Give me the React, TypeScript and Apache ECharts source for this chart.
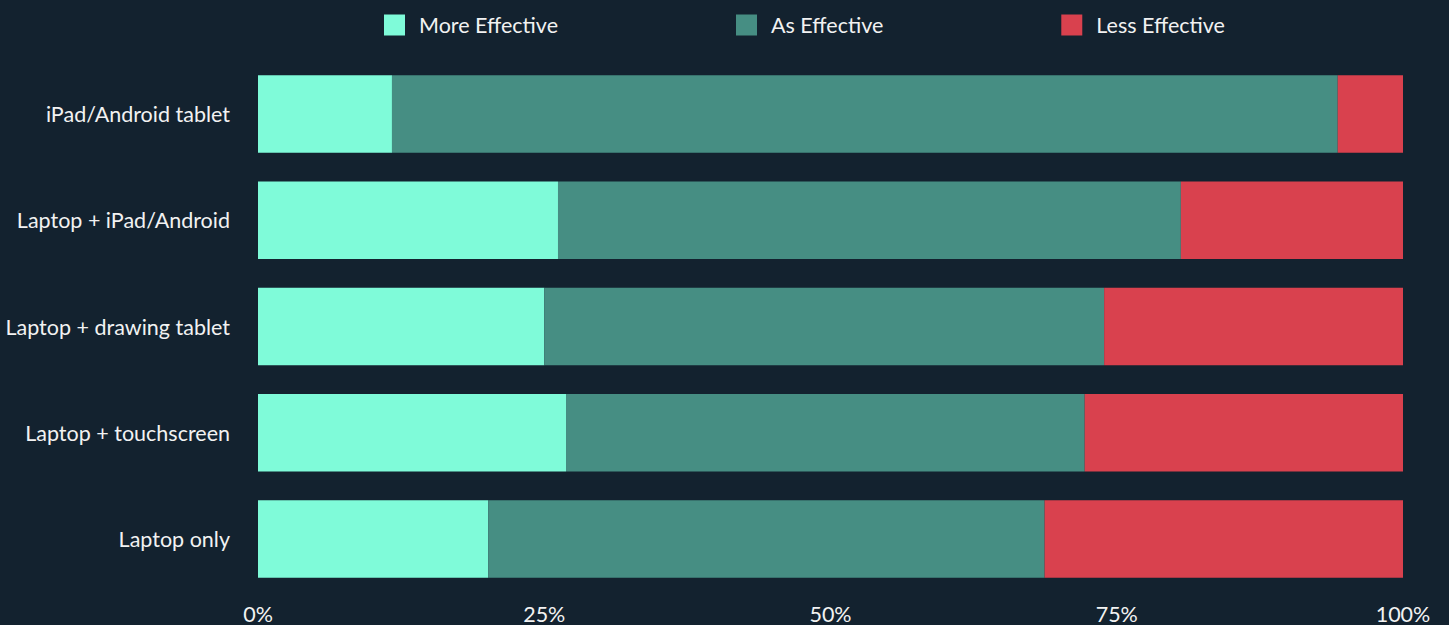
import React, { useEffect, useRef } from "react";
import * as echarts from "echarts";

const categories = [
  "iPad/Android tablet",
  "Laptop + iPad/Android",
  "Laptop + drawing tablet",
  "Laptop + touchscreen",
  "Laptop only",
];
const seriesNames = ["More Effective", "As Effective", "Less Effective"];
const moreEffective = [11.7, 26.2, 25.0, 26.9, 20.1];
const asEffective = [82.6, 54.4, 48.9, 45.3, 48.6];
const lessEffective = [5.7, 19.4, 26.1, 27.8, 31.3];
const xTicks = [0, 25, 50, 75, 100];

const colors = ["#7ffbd9", "#468e83", "#d9414e"];
const BG = "#13222f";
const TEXT = "#f2f2f2";
const FONT = "Lato, 'Noto Sans', sans-serif";
const FS = 21.5;

export default function App() {
  const ref = useRef<HTMLDivElement>(null);
  useEffect(() => {
    if (!ref.current) return;
    const chart = echarts.init(ref.current, undefined, { renderer: "svg" });
    const values = [moreEffective, asEffective, lessEffective];
    chart.setOption({
      animation: false,
      backgroundColor: BG,
      textStyle: { fontFamily: FONT },
      legend: {
        top: 14,
        left: 384,
        padding: 0,
        itemWidth: 21,
        itemHeight: 21,
        itemGap: 178,
        icon: "rect",
        data: seriesNames,
        textStyle: {
          color: TEXT,
          fontSize: FS,
          fontFamily: FONT,
          lineHeight: 21,
          padding: [0, 0, 0, 9],
        },
      },
      grid: { left: 258, right: 46, top: 61, bottom: 32, containLabel: false },
      xAxis: {
        type: "value",
        min: xTicks[0],
        max: xTicks[xTicks.length - 1],
        interval: 25,
        axisLine: { show: false },
        axisTick: { show: false },
        splitLine: { show: false },
        axisLabel: {
          color: TEXT,
          fontSize: FS,
          fontFamily: FONT,
          lineHeight: 18,
          margin: 13,
          formatter: (v: number) => `${v}%`,
        },
      },
      yAxis: {
        type: "category",
        data: categories,
        inverse: true,
        axisLine: { show: false },
        axisTick: { show: false },
        splitLine: { show: false },
        axisLabel: {
          color: TEXT,
          fontSize: FS,
          fontFamily: FONT,
          margin: 28,
        },
      },
      series: seriesNames.map((name, i) => ({
        name,
        type: "bar",
        stack: "total",
        barCategoryGap: "27%",
        data: values[i],
        itemStyle: { color: colors[i] },
      })),
    });
    return () => chart.dispose();
  }, []);
  return (
    <div
      ref={ref}
      style={{ position: "absolute", left: 0, top: 0, width: 1449, height: 625, background: BG }}
    />
  );
}
